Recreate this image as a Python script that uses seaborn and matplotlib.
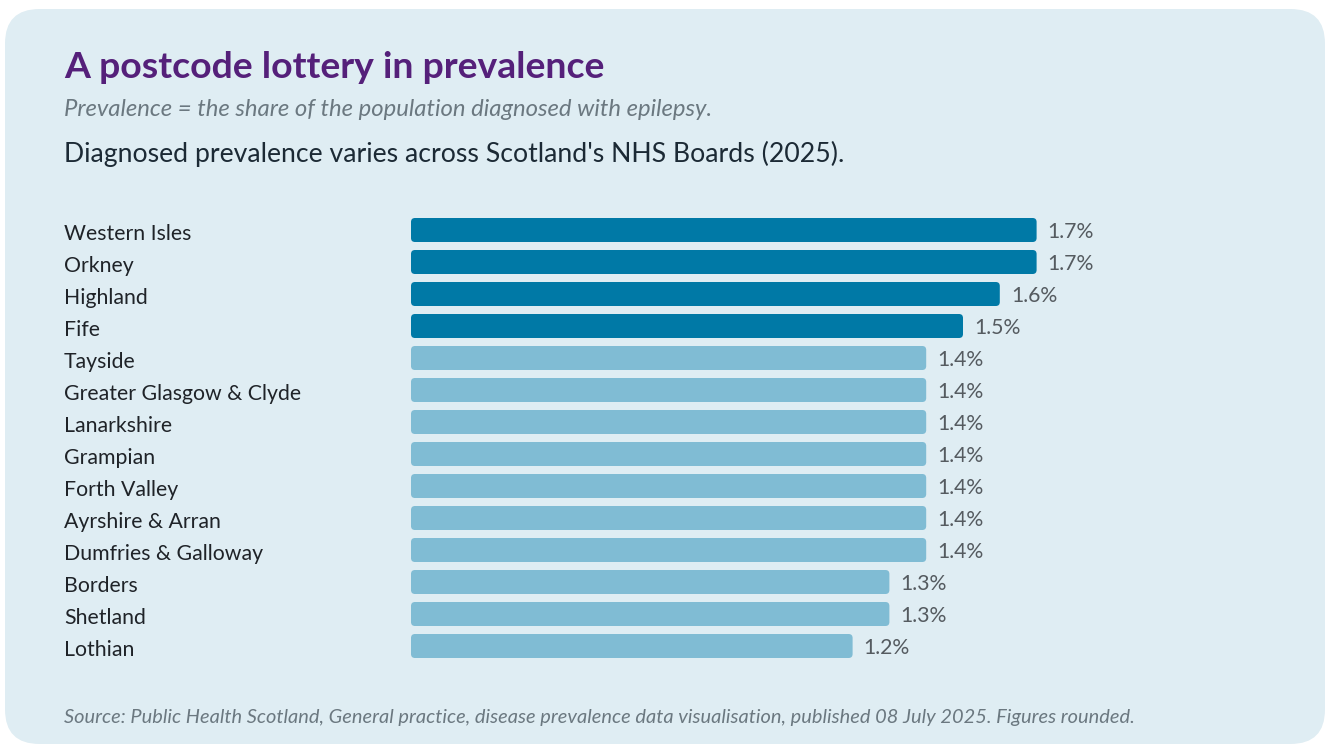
import matplotlib
matplotlib.use("Agg")
import matplotlib.pyplot as plt
import seaborn as sns
import pandas as pd
from matplotlib.patches import FancyBboxPatch

# ── Data ─────────────────────────────────────────────────────
boards = ["Western Isles", "Orkney", "Highland", "Fife", "Tayside",
          "Greater Glasgow & Clyde", "Lanarkshire", "Grampian", "Forth Valley",
          "Ayrshire & Arran", "Dumfries & Galloway", "Borders", "Shetland", "Lothian"]
prevalence = [1.7, 1.7, 1.6, 1.5, 1.4, 1.4, 1.4, 1.4, 1.4, 1.4, 1.4, 1.3, 1.3, 1.2]
group = ["high"] * 4 + ["other"] * 10

df = pd.DataFrame({"board": boards, "prev": prevalence, "group": group})

BG = "#dfedf3"
DARK = "#0079a6"
LIGHT = "#80bcd4"

sns.set_theme(style="white")
plt.rcParams["font.family"] = ["Lato", "DejaVu Sans"]

W, H = 1328, 744
fig = plt.figure(figsize=(W / 100, H / 100), dpi=100)
fig.patch.set_facecolor("white")

# rounded background panel
panel = FancyBboxPatch((5 / W, 0.0), 1320 / W, 735 / H,
                       boxstyle="round,pad=0,rounding_size=0.026",
                       mutation_aspect=W / H,
                       transform=fig.transFigure, facecolor=BG,
                       edgecolor="none", zorder=-10)
fig.patches.append(panel)

# axes placed in pixel terms
ax_left, ax_right = 411, 1260
ax_top, ax_bot = 214, 662
ax = fig.add_axes([ax_left / W, 1 - ax_bot / H,
                   (ax_right - ax_left) / W, (ax_bot - ax_top) / H])
ax.set_facecolor("none")
ax.set_zorder(5)

sns.barplot(data=df, y="board", x="prev", hue="group",
            palette={"high": DARK, "other": LIGHT}, saturation=1,
            dodge=False, width=0.75, legend=False, ax=ax)

ax.set_xlim(0, (ax_right - ax_left) / 368)
ax.set_ylim(len(boards) - 0.5, -0.5)

# swap bars for rounded ones
x_per_px = ax.get_xlim()[1] / (ax_right - ax_left)
y_per_px = len(boards) / (ax_bot - ax_top)
for p in list(ax.patches):
    x, y, w, h = p.get_x(), p.get_y(), p.get_width(), p.get_height()
    fc = p.get_facecolor()
    p.remove()
    ax.add_patch(FancyBboxPatch((x, y), w, h,
                                boxstyle=f"round,pad=0,rounding_size={4 * x_per_px}",
                                mutation_aspect=y_per_px / x_per_px,
                                facecolor=fc, edgecolor="none"))

for i, v in enumerate(prevalence):
    ax.text(v + 11 * x_per_px, i + 2 * y_per_px, f"{v:.1f}%", va="center", ha="left",
            fontsize=15.3, color="#555b60")

ax.set_xlabel("")
ax.set_ylabel("")
ax.set_xticks([])
ax.set_yticks([i + 2 * y_per_px for i in range(len(boards))])
ax.set_yticklabels(boards, fontsize=15.3, color="#1f2328")
for lab in ax.get_yticklabels():
    lab.set_horizontalalignment("left")
ax.tick_params(axis="y", length=0, pad=(ax_left - 64) * 0.72)
sns.despine(ax=ax, left=True, bottom=True)

# ── Titles and notes ─────────────────────────────────────────
fig.text(64 / W, 1 - 68 / H, "A postcode lottery in prevalence", fontsize=26.9,
         fontweight="bold", color="#55207a", va="center", ha="left")
fig.text(64 / W, 1 - 109 / H, "Prevalence = the share of the population diagnosed with epilepsy.",
         fontsize=17.2, style="italic", color="#6b7880", va="center", ha="left")
fig.text(64 / W, 1 - 153.5 / H, "Diagnosed prevalence varies across Scotland's NHS Boards (2025).",
         fontsize=19.2, color="#1c2a35", va="center", ha="left")
fig.text(64 / W, 1 - 718 / H,
         "Source: Public Health Scotland, General practice, disease prevalence data visualisation, "
         "published 08 July 2025. Figures rounded.",
         fontsize=14.4, style="italic", color="#6b7880", va="center", ha="left")

fig.savefig("out.png", dpi=100, facecolor=fig.get_facecolor())
